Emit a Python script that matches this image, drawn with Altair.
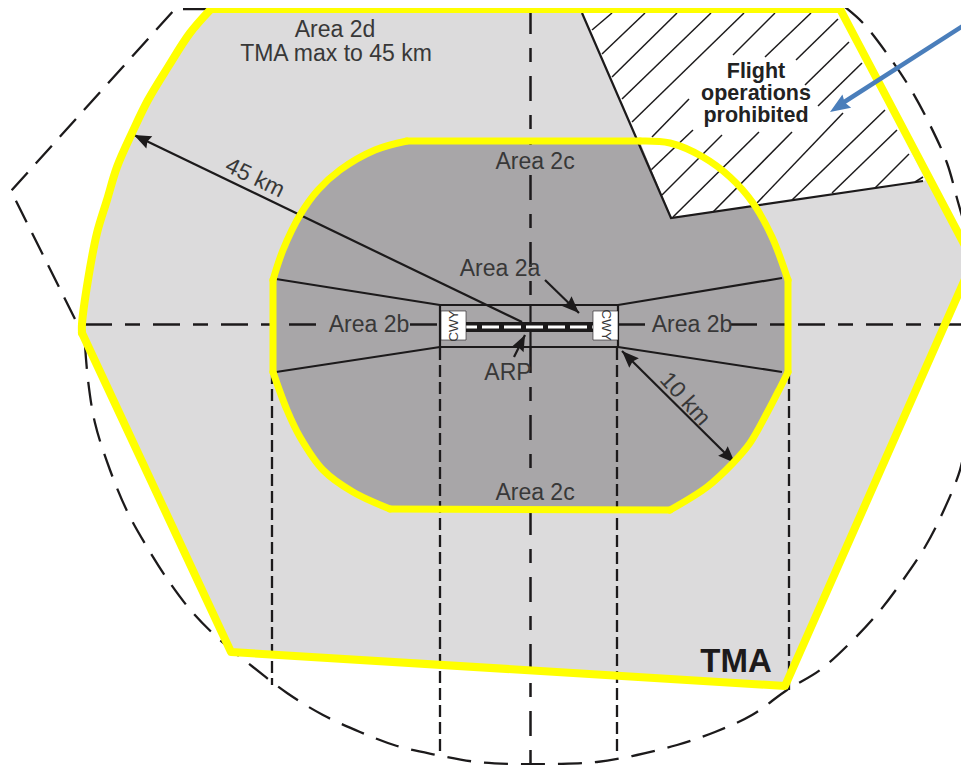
import math
import altair as alt
import pandas as pd

tma_x = [211, 840, 973, 785, 231, 82, 82, 88, 97, 107, 117, 132, 148, 168, 190, 211]
tma_y = [9, 9, 261, 686, 652, 333, 324, 280, 233, 200, 167, 133, 100, 67, 33, 9]
tma_arc_x = [82, 82, 88, 97, 107, 117, 132, 148, 168, 190, 211]
tma_arc_y = [333, 324, 280, 233, 200, 167, 133, 100, 67, 33, 9]
tma_edge_x = [82, 231, 785, 973, 840, 211]
tma_edge_y = [333, 652, 686, 261, 9, 9]

dark_x = [407, 639, 671, 755, 772, 788, 788, 780, 767, 750, 733, 707, 670, 390, 353, 323, 300, 287, 273, 273, 283, 300, 318, 340, 375, 407]
dark_y = [141, 141, 218, 206, 237, 280, 372, 388, 413, 443, 463, 487, 510, 509, 492, 470, 437, 410, 372, 280, 250, 215, 190, 170, 150, 141]

arc_tr_x = [640, 670, 703, 730, 753, 772, 788]
arc_tr_y = [141, 143, 157, 177, 203, 237, 280]
arc_br_x = [788, 780, 767, 750, 733, 707, 670]
arc_br_y = [372, 388, 413, 443, 463, 487, 510]
arc_bl_x = [390, 353, 323, 300, 287, 273]
arc_bl_y = [509, 492, 470, 437, 410, 372]
arc_tl_x = [273, 283, 300, 318, 340, 375, 407]
arc_tl_y = [280, 250, 215, 190, 170, 150, 141]
inner_straight_x1 = [407, 788, 670, 273]
inner_straight_y1 = [141, 280, 510, 372]
inner_straight_x2 = [640, 788, 390, 273]
inner_straight_y2 = [141, 372, 509, 280]

white_x = [580, 838, 925, 672, 580]
white_y = [9, 9, 180, 218, 9]
edge_x = [582, 671, 923]
edge_y = [13, 218, 181]

hatch_x1 = [592, 602, 612, 622, 632, 733, 765, 796, 805, 818, 652, 651, 662, 673, 713, 757, 792, 832, 875, 915]
hatch_y1 = [30, 54, 77, 99, 122, 55, 57, 60, 85, 106, 137, 170, 195, 217, 212, 203, 200, 193, 188, 182]
hatch_x2 = [612, 645, 677, 711, 744, 775, 811, 838, 849, 862, 689, 693, 722, 759, 792, 843, 885, 897, 909, 923]
hatch_y2 = [13, 13, 13, 13, 13, 13, 13, 19, 42, 63, 99, 130, 135, 132, 132, 113, 110, 130, 154, 177]

outline_x = [207, 175, 11, 78]
outline_y = [9, 9, 191, 325]

arc_x = [85, 88, 95, 110, 128, 147, 170, 193, 220, 253, 287, 323, 360, 397, 437, 477, 517, 557, 597, 637, 677, 715, 752, 787, 820, 850, 878, 903, 925, 943, 960, 968]
arc_y = [345, 380, 423, 470, 513, 547, 583, 613, 640, 667, 693, 715, 732, 746, 755, 762, 764, 764, 762, 755, 745, 732, 715, 690, 670, 643, 613, 580, 547, 512, 470, 430]
arc2_x = [845, 863, 888, 910, 930, 947, 958, 967]
arc2_y = [7, 23, 55, 88, 125, 163, 202, 233]

axis_seg_x1 = [85, 410, 618, 730]
axis_seg_x2 = [325, 440, 650, 969]
axis_seg_y = [324.5, 324.5, 324.5, 324.5]
centre_x = [530.5, 530.5, 530.5, 530.5]
centre_y1 = [9, 175, 348, 510]
centre_y2 = [145, 305, 470, 764]
drop_x = [272, 440, 617, 789]
drop_y1 = [372, 348, 348, 372]
drop_y2 = [685, 753, 753, 693]

solid_x1 = [276, 276, 618, 618, 440, 440, 440, 618, 530.5, 530.5, 134, 545, 514, 622]
solid_y1 = [279, 372, 305, 347, 305, 347, 305, 305, 305, 332, 135, 280, 357, 351]
solid_x2 = [440, 440, 782, 782, 618, 618, 440, 618, 530.5, 530.5, 522, 579, 525, 735]
solid_y2 = [305, 347, 278, 372, 305, 347, 347, 347, 322, 348, 322, 313, 335, 463]

# arrow heads: tip and the point the head looks away from
head_tip_x = [134, 579, 525, 622, 735]
head_tip_y = [135, 313, 335, 351, 463]
head_from_x = [522, 545, 514, 735, 622]
head_from_y = [322, 280, 357, 463, 351]
head_len = [17, 17, 16, 17, 17]

blue_x = [969, 838]
blue_y = [22, 106]
blue_tip_x = [830]
blue_tip_y = [112]
blue_from_x = [969]
blue_from_y = [22]

labels = ["Area 2d", "TMA max to 45 km", "Area 2c", "Area 2c", "Area 2a", "Area 2b", "Area 2b", "ARP"]
label_x = [335, 336, 535, 535, 500, 369, 692, 508]
label_y = [30, 54, 162, 493, 269, 325, 325, 373]

bold_labels = ["Flight", "operations", "prohibited"]
bold_x = [756, 756, 756]
bold_y = [72, 94, 116]

FONT = "Liberation Sans"
X0, X1, Y0, Y1 = 8, 961, 8, 765
xs = alt.Scale(domain=[X0, X1], nice=False, zero=False)
ys = alt.Scale(domain=[Y1, Y0], nice=False, zero=False)
X = alt.X("x:Q", scale=xs, axis=None)
Y = alt.Y("y:Q", scale=ys, axis=None)
X2, Y2 = alt.X2("x2:Q"), alt.Y2("y2:Q")


def path(px, py, interpolate="linear", **kw):
    df = pd.DataFrame({"x": px, "y": py, "i": range(len(px))})
    return alt.Chart(df).mark_line(clip=True, interpolate=interpolate, **kw).encode(
        x=X, y=Y, order="i:Q")


def segs(x1, y1, x2, y2, **kw):
    rows = []
    for k, (a, b, c, d) in enumerate(zip(x1, y1, x2, y2)):
        rows += [{"x": a, "y": b, "s": k, "i": 0}, {"x": c, "y": d, "s": k, "i": 1}]
    return alt.Chart(pd.DataFrame(rows)).mark_line(clip=True, **kw).encode(
        x=X, y=Y, detail="s:N", order="i:Q")


def box(x, x2, y, y2, **kw):
    df = pd.DataFrame({"x": [x], "x2": [x2], "y": [y], "y2": [y2]})
    return alt.Chart(df).mark_rect(**kw).encode(x=X, x2=X2, y=Y, y2=Y2)


def heads(tx, ty, fx, fy, length, color):
    rows = []
    for a, b, c, d, n in zip(tx, ty, fx, fy, length):
        dx, dy = a - c, b - d
        m = math.hypot(dx, dy)
        rows.append({"x": a - dx / m * n / 2, "y": b - dy / m * n / 2,
                     "a": (math.degrees(math.atan2(dx, -dy)) + 360) % 360, "n": n * n})
    return alt.Chart(pd.DataFrame(rows)).mark_point(
        shape="M0,-1L0.8,1L0,0.75L-0.8,1Z", filled=True, opacity=1, color=color
    ).encode(x=X, y=Y, angle=alt.Angle("a:Q", scale=None), size=alt.Size("n:Q", scale=None))


def text(t, x, y, size=23, color="#383838", weight="normal", angle=0):
    df = pd.DataFrame({"t": t, "x": x, "y": y})
    return alt.Chart(df).mark_text(font=FONT, fontSize=size, color=color, fontWeight=weight,
                                   angle=angle, align="center", baseline="middle").encode(
        x=X, y=Y, text="t:N")


BLACK = "#1c1a1b"
YEL = "#ffff00"
CR = "catmull-rom"
layers = [
    path(tma_x, tma_y, fill="#dcdbdc", stroke="#dcdbdc", strokeWidth=1),
    path(white_x, white_y, fill="#ffffff", stroke="#ffffff", strokeWidth=1),
    segs(hatch_x1, hatch_y1, hatch_x2, hatch_y2, color=BLACK, strokeWidth=1.5),
    path(dark_x, dark_y, fill="#a8a6a8", stroke="#a8a6a8", strokeWidth=1),
    path(edge_x, edge_y, color=BLACK, strokeWidth=2.2),
    path(outline_x, outline_y, color=BLACK, strokeWidth=2.3, strokeDash=[24, 12]),
    path(arc_x, arc_y, CR, color=BLACK, strokeWidth=2.3, strokeDash=[24, 13]),
    path(arc2_x, arc2_y, CR, color=BLACK, strokeWidth=2.3, strokeDash=[24, 13]),
    segs(axis_seg_x1, axis_seg_y, axis_seg_x2, axis_seg_y, color=BLACK, strokeWidth=2.5,
         strokeDash=[27, 13, 15, 13]),
    segs(centre_x, centre_y1, centre_x, centre_y2, color=BLACK, strokeWidth=2.5,
         strokeDash=[25, 14, 14, 14]),
    segs(drop_x, drop_y1, drop_x, drop_y2, color=BLACK, strokeWidth=2.3, strokeDash=[12, 5]),
    segs(solid_x1, solid_y1, solid_x2, solid_y2, color=BLACK, strokeWidth=2.2),
    box(466, 593, 322, 332, color=BLACK),
    path([466, 593], [327, 327], color="#ffffff", strokeWidth=3, strokeDash=[17, 5], strokeDashOffset=6),
    box(441, 466, 311, 340, color="#ffffff", stroke=BLACK, strokeWidth=0.6),
    box(593, 618, 311, 340, color="#ffffff", stroke=BLACK, strokeWidth=0.6),
    heads(head_tip_x, head_tip_y, head_from_x, head_from_y, head_len, BLACK),
    path(arc_tr_x, arc_tr_y, CR, color=YEL, strokeWidth=7, strokeCap="round"),
    path(arc_br_x, arc_br_y, CR, color=YEL, strokeWidth=7, strokeCap="round"),
    path(arc_bl_x, arc_bl_y, CR, color=YEL, strokeWidth=7, strokeCap="round"),
    path(arc_tl_x, arc_tl_y, CR, color=YEL, strokeWidth=7, strokeCap="round"),
    segs(inner_straight_x1, inner_straight_y1, inner_straight_x2, inner_straight_y2,
         color=YEL, strokeWidth=7, strokeCap="round"),
    path(tma_arc_x, tma_arc_y, CR, color=YEL, strokeWidth=8, strokeCap="round"),
    path(tma_edge_x, tma_edge_y, color=YEL, strokeWidth=8, strokeJoin="round", strokeCap="round"),
    path(blue_x, blue_y, color="#4a7ebb", strokeWidth=4.5),
    heads(blue_tip_x, blue_tip_y, blue_from_x, blue_from_y, [20], "#4a7ebb"),
    text(labels, label_x, label_y),
    text(bold_labels, bold_x, bold_y, size=21.5, color="#222222", weight="bold"),
    text(["TMA"], [736], [662], size=33, color="#1c1a1b", weight="bold"),
    text(["45 km"], [255], [178], angle=26),
    text(["10 km"], [685], [399], angle=48),
    text(["CWY"], [453.5], [326], size=13.5, angle=270),
    text(["CWY"], [605.5], [325], size=13.5, angle=90),
]

chart = alt.layer(*layers).properties(
    width=X1 - X0, height=Y1 - Y0, padding=0, background="#ffffff",
    autosize=alt.AutoSizeParams(type="none"),
).configure_view(stroke=None)

chart.save("out.html", embed_options={"renderer": "svg", "actions": False})
